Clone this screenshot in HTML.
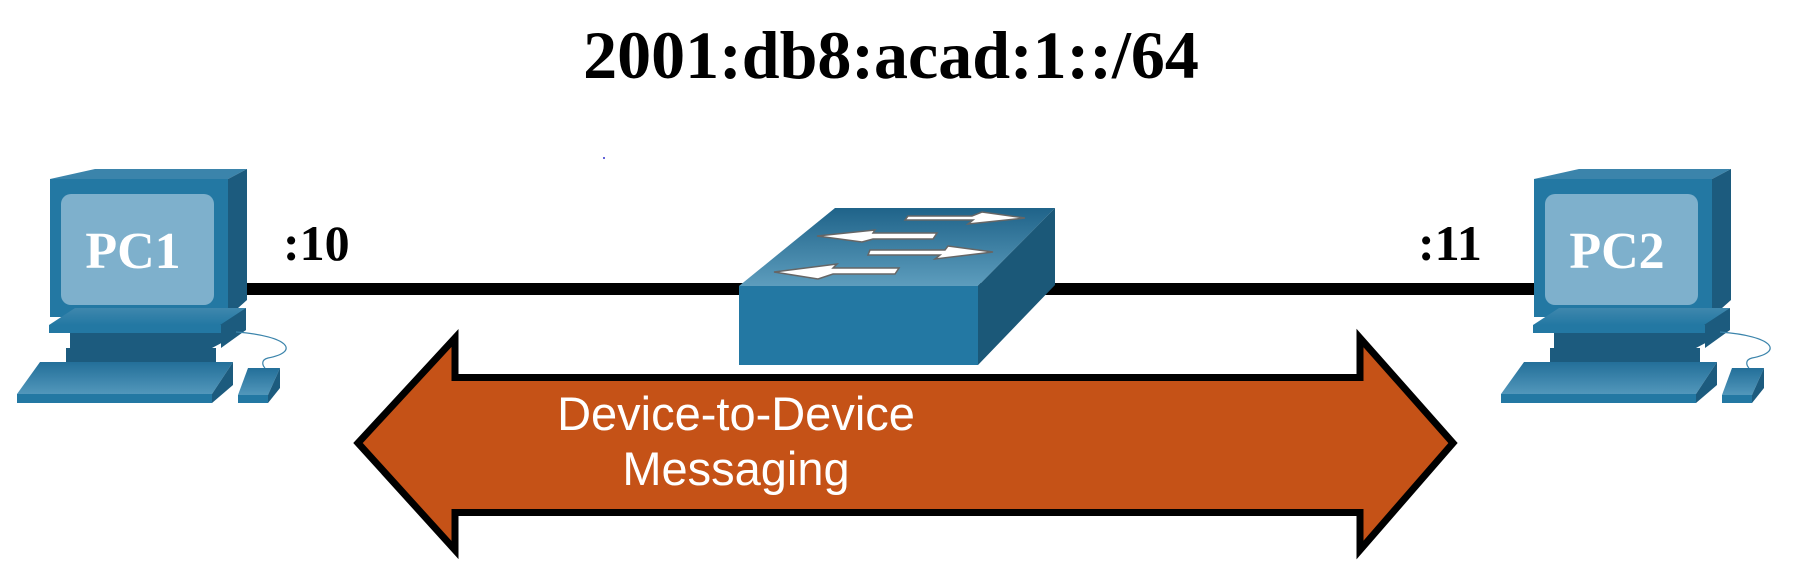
<!DOCTYPE html>
<html><head><meta charset="utf-8"><style>html,body{margin:0;padding:0;background:#fff}svg{display:block}</style></head>
<body>
<svg width="1795" height="566" viewBox="0 0 1795 566" xmlns="http://www.w3.org/2000/svg">
<defs>
<linearGradient id="top" x1="0" y1="0" x2="0" y2="1"><stop offset="0" stop-color="#1f6389"/><stop offset="1" stop-color="#5d9dbd"/></linearGradient>
<linearGradient id="plate" x1="0" y1="0" x2="0" y2="1"><stop offset="0" stop-color="#3f87ad"/><stop offset="1" stop-color="#2378a3"/></linearGradient>
<linearGradient id="kb" x1="0" y1="0" x2="0" y2="1"><stop offset="0" stop-color="#236f99"/><stop offset="1" stop-color="#5297bb"/></linearGradient>
<g id="pc">
  <polygon points="50,179 95,169 247,169 228,179" fill="#3b84ab"/>
  <polygon points="228,179 247,169 247,300 228,317" fill="#1c5b7e"/>
  <rect x="50" y="179" width="178" height="138" fill="#2378a3"/>
  <rect x="61" y="194" width="153" height="111" rx="10" fill="#7eb0cc"/>
  <polygon points="70,317 228,317 246,308 246,330 212,348 70,348" fill="#1c5b7e"/>
  <polygon points="75,308 246,308 220,325 49,325" fill="url(#plate)"/>
  <rect x="49" y="325" width="172" height="8" fill="#2378a3"/>
  <polygon points="221,333 246,315 246,330 221,348" fill="#1c5b7e"/>
  <rect x="66" y="348" width="150" height="14" fill="#1c5b7e"/>
  <polygon points="40,362 233,362 212,394 17,394" fill="url(#kb)"/>
  <rect x="17" y="394" width="195" height="9" fill="#2378a3"/>
  <polygon points="212,394 233,362 233,385 212,403" fill="#1c5b7e"/>
  <path d="M236,332 C290,336 300,352 268,358 C260,360 263,366 265,368" fill="none" stroke="#3b84ab" stroke-width="1.2"/>
  <polygon points="248,368 280,368 268,395 238,395" fill="url(#kb)"/>
  <rect x="238" y="395" width="30" height="8" fill="#2378a3"/>
  <polygon points="268,395 280,368 280,388 268,403" fill="#1c5b7e"/>
</g>
</defs>
<text x="891" y="78" text-anchor="middle" font-family="Liberation Serif, serif" font-weight="bold" font-size="68" fill="#000">2001:db8:acad:1::/64</text>
<circle cx="604" cy="158" r="1" fill="#33c"/>
<rect x="240" y="283" width="1300" height="12" fill="#000"/>
<use href="#pc"/>
<use href="#pc" transform="translate(1484,0)"/>
<text x="133" y="268" text-anchor="middle" font-family="Liberation Serif, serif" font-weight="bold" font-size="52" fill="#fff">PC1</text>
<text x="1617" y="268" text-anchor="middle" font-family="Liberation Serif, serif" font-weight="bold" font-size="52" fill="#fff">PC2</text>
<text x="283" y="260" font-family="Liberation Serif, serif" font-weight="bold" font-size="50" fill="#000">:10</text>
<text x="1418" y="260" font-family="Liberation Serif, serif" font-weight="bold" font-size="50" fill="#000">:11</text>
<!-- switch -->
<polygon points="739,286 835,208 1055,208 978,286" fill="url(#top)"/>
<polygon points="978,286 1055,208 1055,285 978,365" fill="#1b5878"/>
<rect x="739" y="286" width="239" height="79" fill="#2378a3"/>
<g fill="#fff" stroke="#666" stroke-width="1.5">
  <polygon points="908,216 972,216 982,212 1025,218 968,224 973,220 905,220"/>
  <polygon points="817,236 875,230 873,233 937,233 933,239 873,239 862,242"/>
  <polygon points="870,250 945,250 948,246 993,252 935,259 940,255 868,255"/>
  <polygon points="774,272 837,264 833,268 899,268 895,274 833,274 818,279"/>
</g>
<!-- double arrow -->
<polygon points="358,443 455,338 455,377.5 1360,377.5 1360,338 1453,443 1360,550 1360,512.5 455,512.5 455,550" fill="#c55217" stroke="#000" stroke-width="7" stroke-linejoin="miter"/>
<text x="736" y="430" text-anchor="middle" font-family="Liberation Sans, sans-serif" font-size="47" fill="#fff">Device-to-Device</text>
<text x="736" y="485" text-anchor="middle" font-family="Liberation Sans, sans-serif" font-size="47" fill="#fff">Messaging</text>
</svg>
</body></html>
